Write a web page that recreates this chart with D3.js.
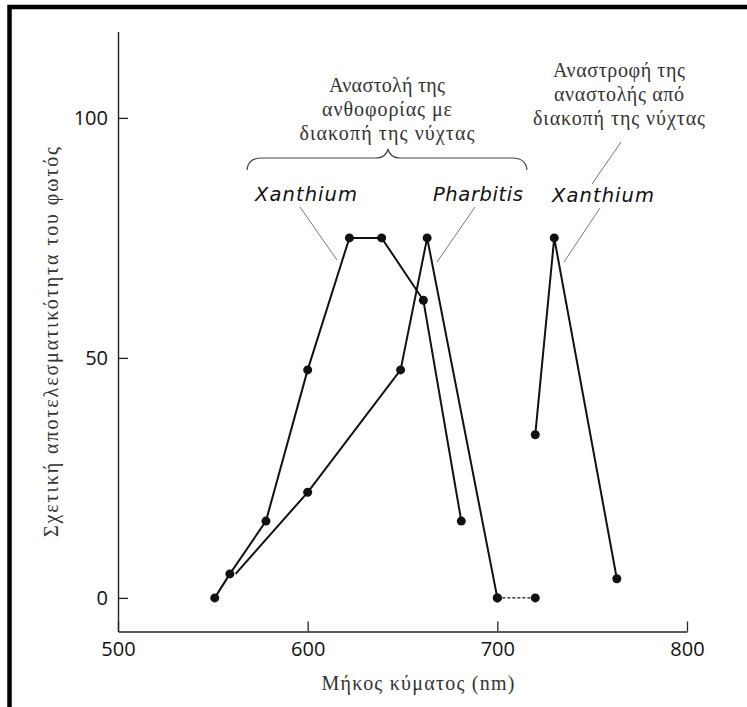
<!DOCTYPE html>
<html>
<head>
<meta charset="utf-8">
<script src="https://cdn.jsdelivr.net/npm/d3@7"></script>
<style>
  body { margin: 0; background: #fff; }
  svg { display: block; }
</style>
</head>
<body>
<svg id="chart" width="747" height="707"></svg>
<script>
// wavelength (nm) and relative effectiveness
var xanthiumWavelengths = [551, 559, 578, 600, 622, 639, 661, 681];
var xanthiumValues      = [0, 5, 16, 47.5, 75, 75, 62, 16];
var pharbitisWavelengths = [562, 600, 649, 663, 700];
var pharbitisValues      = [5, 22, 47.5, 75, 0];
var darkWavelengths = [700, 720];   // dashed piece at zero
var darkValues      = [0, 0];
var reversalWavelengths = [720, 730, 763];
var reversalValues      = [34, 75, 4];
var xTicks = [500, 600, 700, 800];
var yTicks = [0, 50, 100];

var svg = d3.select("#chart");

var x = d3.scaleLinear().domain([500, 800]).range([118, 687]);
var y = d3.scaleLinear().domain([-7, 118]).range([631.5, 31.5]);

var serif = "'Liberation Serif', 'Times New Roman', serif";

// frame of the scanned page
svg.append("path")
  .attr("d", "M9.5,707 V7 H747")
  .attr("fill", "none")
  .attr("stroke", "#000")
  .attr("stroke-width", 4.5);

// axes, ticks pointing inward
var xAxis = svg.append("g")
  .attr("transform", "translate(0," + y(-7) + ")")
  .call(d3.axisBottom(x).tickValues(xTicks).tickSizeInner(-10).tickSizeOuter(0).tickPadding(10));
var yAxis = svg.append("g")
  .attr("transform", "translate(" + x(500) + ",0)")
  .call(d3.axisLeft(y).tickValues(yTicks).tickSizeInner(-10).tickSizeOuter(0).tickPadding(10));

[xAxis, yAxis].forEach(function(g){
  g.select(".domain").attr("stroke", "#222").attr("stroke-width", 1.4);
  g.selectAll(".tick line").attr("stroke", "#222").attr("stroke-width", 1.3);
  g.selectAll(".tick text")
    .attr("font-family", "'Open Sans', sans-serif")
    .attr("font-size", 20)
    .attr("font-weight", 500)
    .attr("fill", "#111");
});

// axis titles
svg.append("text")
  .attr("x", 418).attr("y", 690)
  .attr("text-anchor", "middle")
  .attr("font-family", serif)
  .attr("font-size", 20)
  .attr("fill", "#333")
  .attr("textLength", 193)
  .attr("lengthAdjust", "spacing")
  .text("Μήκος κύματος (nm)");

svg.append("text")
  .attr("transform", "translate(58,342) rotate(-90)")
  .attr("text-anchor", "middle")
  .attr("font-family", serif)
  .attr("font-size", 20)
  .attr("fill", "#333")
  .attr("textLength", 390)
  .attr("lengthAdjust", "spacing")
  .text("Σχετική αποτελεσματικότητα του φωτός");

// curves
var line = d3.line()
  .x(function(d){ return x(d[0]); })
  .y(function(d){ return y(d[1]); });

function pairs(xs, ys) {
  return xs.map(function(v, i){ return [v, ys[i]]; });
}

var series = [
  {pts: pairs(xanthiumWavelengths, xanthiumValues), dash: null},
  {pts: pairs(pharbitisWavelengths, pharbitisValues), skipFirst: true, dash: null},
  {pts: pairs(darkWavelengths, darkValues), dash: "3,2"},
  {pts: pairs(reversalWavelengths, reversalValues), dash: null}
];

series.forEach(function(s){
  svg.append("path")
    .datum(s.pts)
    .attr("d", line)
    .attr("fill", "none")
    .attr("stroke", "#111")
    .attr("stroke-width", s.dash ? 1.4 : 2)
    .attr("stroke-dasharray", s.dash);
  svg.selectAll(null)
    .data(s.skipFirst ? s.pts.slice(1) : s.pts)
    .enter().append("circle")
    .attr("cx", function(d){ return x(d[0]); })
    .attr("cy", function(d){ return y(d[1]); })
    .attr("r", 4.5)
    .attr("fill", "#111");
});

// species labels with thin leader lines
var speciesLabels = [
  {text: "Xanthium", cx: 306, base: 201, len: 102, from: [300, 207], to: [337, 260]},
  {text: "Pharbitis", cx: 478, base: 201, len: 90, from: [475, 207], to: [437, 262]},
  {text: "Xanthium", cx: 603, base: 202, len: 102, from: [600, 208], to: [564, 262]}
];
speciesLabels.forEach(function(l){
  svg.append("text")
    .attr("x", l.cx).attr("y", l.base)
    .attr("text-anchor", "middle")
    .attr("font-family", "'DejaVu Sans', sans-serif")
    .attr("font-style", "italic")
    .attr("font-size", 19.5)
    .attr("fill", "#111")
    .attr("textLength", l.len)
    .attr("lengthAdjust", "spacing")
    .text(l.text);
  svg.append("line")
    .attr("x1", l.from[0]).attr("y1", l.from[1])
    .attr("x2", l.to[0]).attr("y2", l.to[1])
    .attr("stroke", "#777").attr("stroke-width", 1);
});

// annotation blocks
function block(lines, widths, cx, firstBase) {
  svg.append("text")
    .attr("text-anchor", "middle")
    .attr("font-family", serif)
    .attr("font-size", 20)
    .attr("fill", "#333")
    .selectAll("tspan").data(lines).enter().append("tspan")
    .attr("x", cx)
    .attr("y", function(d, i){ return firstBase + i * 24; })
    .attr("textLength", function(d, i){ return widths[i]; })
    .attr("lengthAdjust", "spacing")
    .text(function(d){ return d; });
}
block(["Αναστολή της", "ανθοφορίας με", "διακοπή της νύχτας"], [116, 130, 175], 387, 92);
block(["Αναστροφή της", "αναστολής από", "διακοπή της νύχτας"], [132, 130, 172], 619, 77);

// curly brace over the inhibition curves
svg.append("path")
  .attr("d", "M247,170 Q248,158 262,158 L376,158 Q386,158 388,149 Q390,158 400,158 L512,158 Q526,158 527,170")
  .attr("fill", "none")
  .attr("stroke", "#444")
  .attr("stroke-width", 1.2);

// leader from the reversal note
svg.append("line")
  .attr("x1", 621).attr("y1", 142)
  .attr("x2", 592).attr("y2", 184)
  .attr("stroke", "#777").attr("stroke-width", 1);
</script>
</body>
</html>
